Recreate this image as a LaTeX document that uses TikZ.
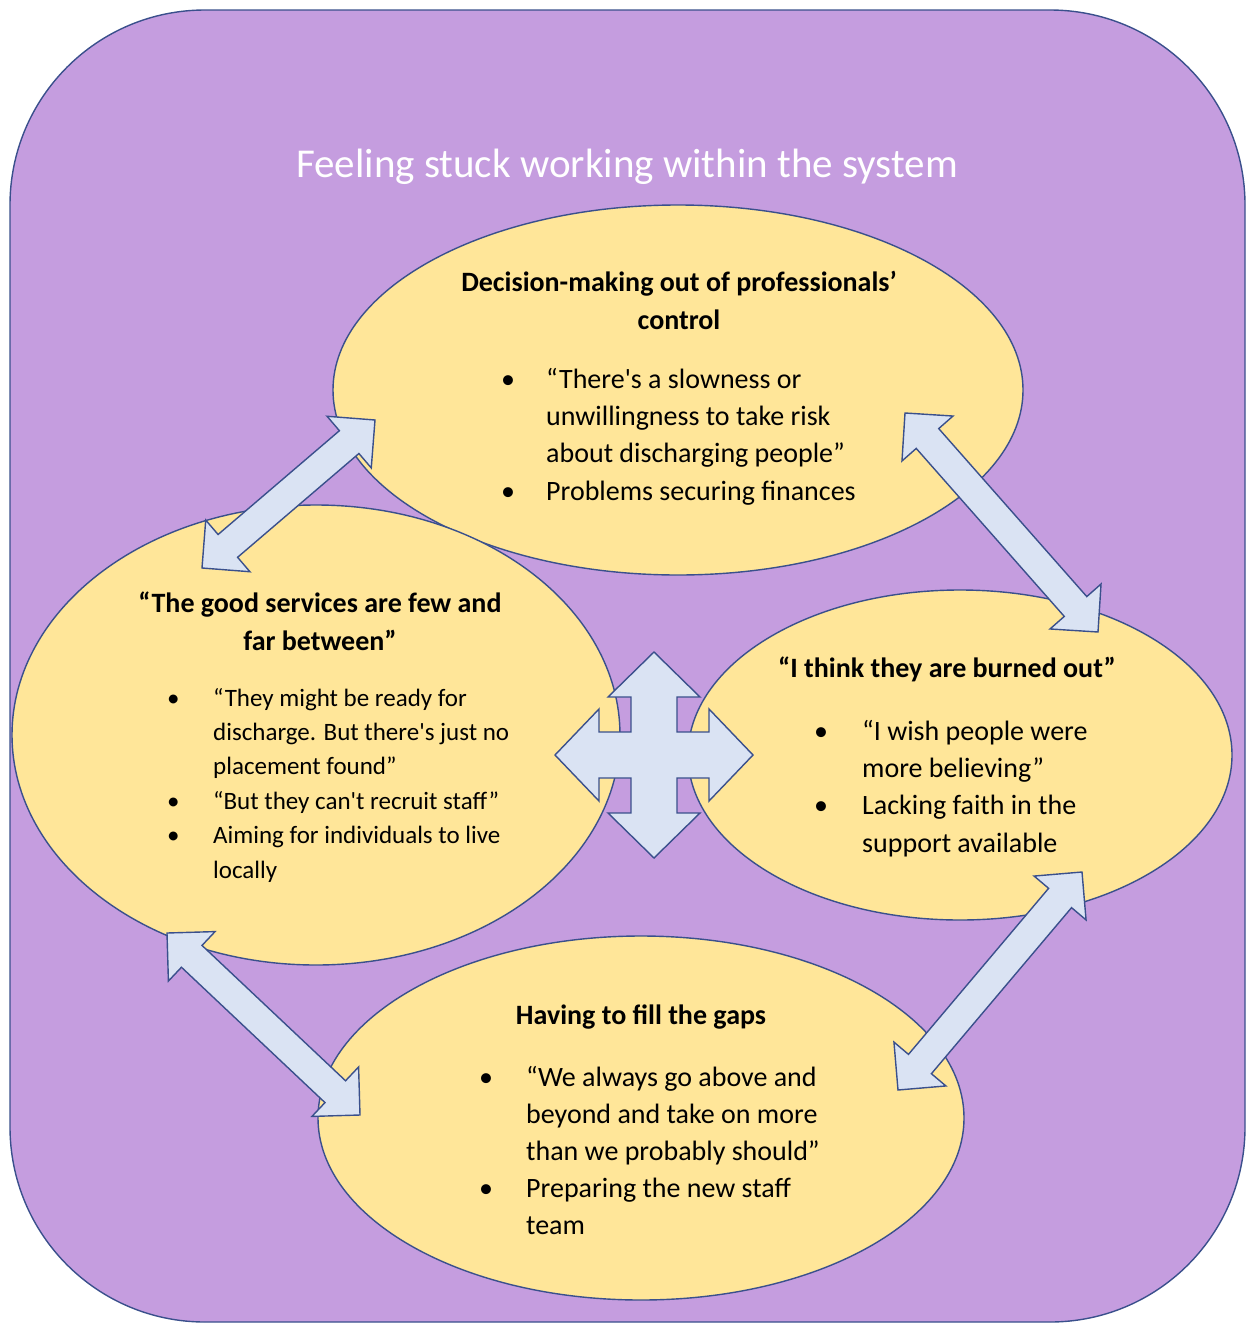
\documentclass[tikz,border=0pt]{standalone}
\usepackage{fontspec}
\newfontfamily\calfont{Carlito}
\usetikzlibrary{shapes.geometric,calc}

\definecolor{framefill}{RGB}{197,157,223}
\definecolor{bubble}{RGB}{255,230,153}
\definecolor{arrowfill}{RGB}{218,227,243}
\definecolor{edge}{RGB}{58,80,140}

\newlength\bulw
\newcommand\bl{\makebox[\bulw][l]{\textbullet}}
\newcommand\ind{\hspace*{\bulw}}

% double-headed block arrow between two tips
\newcommand\twoheaded[2]{%
  \draw[blockarrow]
    (#1)
    -- ($(#1)!34pt!(#2)!34pt!90:(#2)$)
    -- ($(#1)!34pt!(#2)!15pt!90:(#2)$)
    -- ($(#2)!34pt!(#1)!15pt!-90:(#1)$)
    -- ($(#2)!34pt!(#1)!34pt!-90:(#1)$)
    -- (#2)
    -- ($(#2)!34pt!(#1)!34pt!90:(#1)$)
    -- ($(#2)!34pt!(#1)!15pt!90:(#1)$)
    -- ($(#1)!34pt!(#2)!15pt!-90:(#2)$)
    -- ($(#1)!34pt!(#2)!34pt!-90:(#2)$)
    -- cycle;}

\begin{document}
\begin{tikzpicture}[x=1pt,y=-1pt,
  bubblenode/.style={ellipse,draw=edge,line width=1.4pt,fill=bubble,inner sep=0pt},
  blockarrow/.style={draw=edge,line width=1.4pt,fill=arrowfill,line join=miter},
  headtext/.style={align=center,inner sep=0pt,anchor=base},
  bodytext/.style={align=left,inner sep=0pt,anchor=base west},
]
\useasboundingbox (0,0) rectangle (1247,1325);

% outer panel
\draw[draw=edge,line width=1.4pt,fill=framefill,rounded corners=195pt]
  (10,10) rectangle (1245,1322);
\node[text=white,font=\calfont\fontsize{41}{45}\selectfont,anchor=base,inner sep=0pt]
  (title) at (627,177) {Feeling stuck working within the system};

% the four themes
\node[bubblenode,minimum width=690pt,minimum height=370pt] (top) at (678,390) {};
\node[bubblenode,minimum width=608pt,minimum height=460pt] (left) at (316,735) {};
\node[bubblenode,minimum width=544pt,minimum height=330pt] (right) at (960,755) {};
\node[bubblenode,minimum width=646pt,minimum height=364pt] (bottom) at (641,1118) {};

% top theme text (anchors sit on the last baseline)
\node[headtext,font=\calfont\bfseries\fontsize{28}{37.5}\selectfont] (tophead) at (679,329)
  {Decision-making out of professionals’\\control};
\node[bodytext,font=\calfont\fontsize{28}{37.3}\selectfont\setlength\bulw{45pt}] (topbody) at (501,500)
  {\bl“There's a slowness or\\
   \ind unwillingness to take risk\\
   \ind about discharging people”\\
   \bl Problems securing finances};

% left theme text
\node[headtext,font=\calfont\bfseries\fontsize{28}{38}\selectfont] (lefthead) at (320,650)
  {“The good services are few and\\far between”};
\node[bodytext,font=\calfont\fontsize{25}{34.4}\selectfont\setlength\bulw{46pt}] (leftbody) at (167,878)
  {\bl“They might be ready for\\
   \ind discharge. But there's just no\\
   \ind placement found”\\
   \bl“But they can't recruit staff”\\
   \bl Aiming for individuals to live\\
   \ind locally};

% right theme text
\node[headtext,font=\calfont\bfseries\fontsize{28}{38}\selectfont] (righthead) at (947,677)
  {“I think they are burned out”};
\node[bodytext,font=\calfont\fontsize{28}{37.3}\selectfont\setlength\bulw{48pt}] (rightbody) at (814,852)
  {\bl“I wish people were\\
   \ind more believing”\\
   \bl Lacking faith in the\\
   \ind support available};

% bottom theme text
\node[headtext,font=\calfont\bfseries\fontsize{28}{38}\selectfont] (bottomhead) at (641,1024)
  {Having to fill the gaps};
\node[bodytext,font=\calfont\fontsize{28}{37}\selectfont\setlength\bulw{47pt}] (bottombody) at (479,1234)
  {\bl“We always go above and\\
   \ind beyond and take on more\\
   \ind than we probably should”\\
   \bl Preparing the new staff\\
   \ind team};

% arrow tips
\coordinate (tlA) at (202,568);  \coordinate (tlB) at (375,420);
\coordinate (trA) at (905,413);  \coordinate (trB) at (1098,632);
\coordinate (blA) at (167,933);  \coordinate (blB) at (360,1115);
\coordinate (brA) at (898,1090); \coordinate (brB) at (1082,872);

\twoheaded{tlA}{tlB}
\twoheaded{trA}{trB}
\twoheaded{blA}{blB}
\twoheaded{brA}{brB}

% four-way arrow in the middle
\coordinate (hub) at (654,755);
\draw[blockarrow,shift={(hub)}]
  (0,-103) -- (46,-58) -- (23,-58) -- (23,-23) -- (55,-23) -- (55,-46)
  -- (99,0) -- (55,46) -- (55,23) -- (23,23) -- (23,58) -- (46,58)
  -- (0,103) -- (-46,58) -- (-23,58) -- (-23,23) -- (-55,23) -- (-55,46)
  -- (-99,0) -- (-55,-46) -- (-55,-23) -- (-23,-23) -- (-23,-58) -- (-46,-58)
  -- cycle;
\end{tikzpicture}
\end{document}
